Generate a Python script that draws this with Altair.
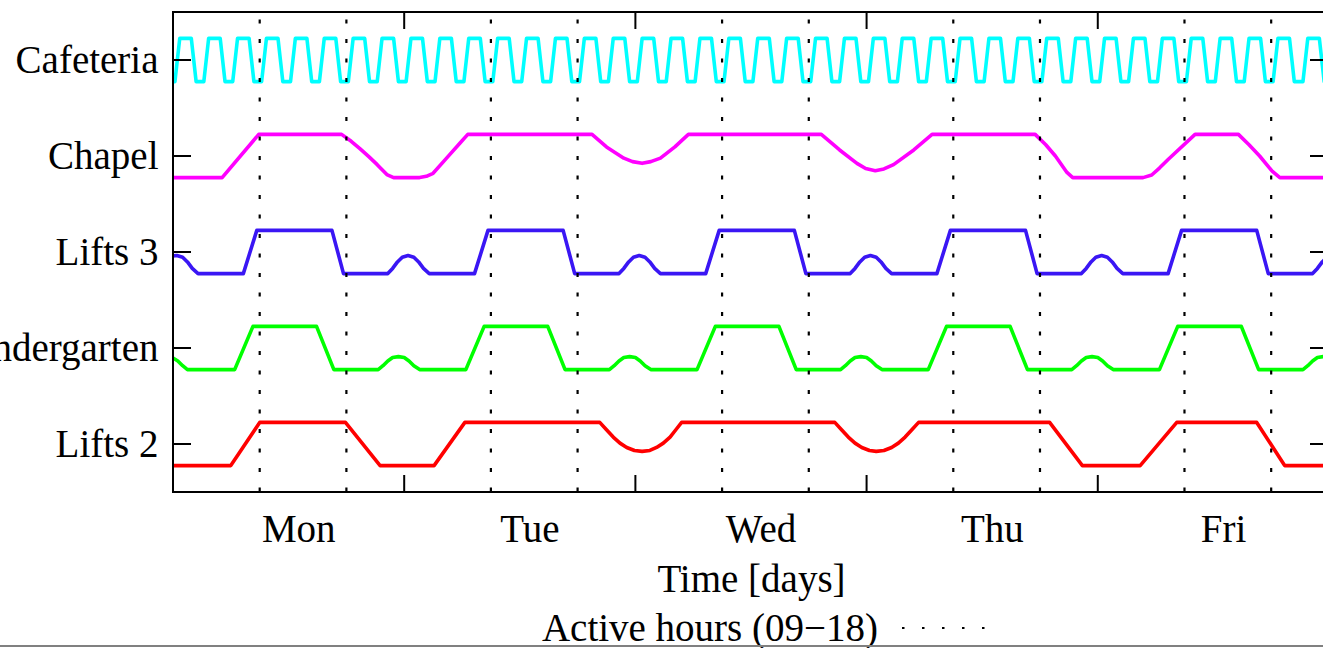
import json
import altair as alt
import pandas as pd

FONT = "Liberation Serif"
FS = 39

# ---------------- labels ----------------
row_names = ["Lifts 2", "Kindergarten", "Lifts 3", "Chapel", "Cafeteria"]   # bottom -> top
row_colors = ["#ff0000", "#00ff00", "#3a16f4", "#ff00ff", "#00ffff"]
day_names = ["Mon", "Tue", "Wed", "Thu", "Fri"]
day_label_hours = [13, 37, 61, 85, 109]
day_edges = [24, 48, 72, 96]
active_lines = [9, 18, 33, 42, 57, 66, 81, 90, 105, 114]
legend_label = "Active hours (09\u221218)"
x_title = "Time [days]"

# ---------------- series (time in hours, level 0 = low, 1 = high) ----------------
l2_t = [0, 6.0, 9.0, 17.9, 21.5, 27.1, 30.3,
        44.3, 45.0, 45.7, 46.4, 47.1, 47.9, 48.7, 49.5, 50.2, 50.9, 51.6, 52.2, 52.8,
        68.7, 69.4, 70.1, 70.8, 71.5, 72.3, 73.0, 73.8, 74.6, 75.3, 76.0, 76.7, 77.4,
        91.0, 94.4, 100.4, 104.2, 112.5, 115.4, 120]
l2_v = [0, 0, 1, 1, 0, 0, 1,
        1, 0.83, 0.66, 0.52, 0.42, 0.35, 0.33, 0.35, 0.42, 0.52, 0.66, 0.83, 1,
        1, 0.83, 0.66, 0.52, 0.42, 0.35, 0.33, 0.35, 0.42, 0.52, 0.66, 0.83, 1,
        1, 0, 0, 1, 1, 0, 0]

kg_t = [0.0, 0.5, 1.0, 1.5, 6.4, 8.3, 14.9, 16.7,
        21.3, 21.8, 22.3, 22.8, 23.4, 24.0, 24.5, 25.0, 25.6, 30.4, 32.3, 38.9, 40.7,
        45.3, 45.8, 46.3, 46.8, 47.4, 48.0, 48.5, 49.0, 49.6, 54.4, 56.3, 62.9, 64.7,
        69.3, 69.8, 70.3, 70.8, 71.4, 72.0, 72.5, 73.0, 73.6, 78.4, 80.3, 86.9, 88.7,
        93.3, 93.8, 94.3, 94.8, 95.4, 96.0, 96.5, 97.0, 97.6, 102.4, 104.3, 110.9, 112.7,
        117.3, 117.8, 118.3, 118.8, 119.4, 120.0]
kg_v = [0.27, 0.2, 0.09, 0, 0, 1, 1, 0,
        0, 0.09, 0.2, 0.28, 0.30, 0.28, 0.2, 0.09, 0, 0, 1, 1, 0,
        0, 0.09, 0.2, 0.28, 0.30, 0.28, 0.2, 0.09, 0, 0, 1, 1, 0,
        0, 0.09, 0.2, 0.28, 0.30, 0.28, 0.2, 0.09, 0, 0, 1, 1, 0,
        0, 0.09, 0.2, 0.28, 0.30, 0.28, 0.2, 0.09, 0, 0, 1, 1, 0,
        0, 0.09, 0.2, 0.28, 0.30, 0.28]

l3_t = [0.0, 0.4, 1.0, 1.5, 2.0, 2.6, 7.3, 8.7, 16.5, 17.7,
        22.3, 22.8, 23.3, 23.8, 24.4, 25.0, 25.5, 26.0, 26.6, 31.3, 32.7, 40.5, 41.7,
        46.3, 46.8, 47.3, 47.8, 48.4, 49.0, 49.5, 50.0, 50.6, 55.3, 56.7, 64.5, 65.7,
        70.3, 70.8, 71.3, 71.8, 72.4, 73.0, 73.5, 74.0, 74.6, 79.3, 80.7, 88.5, 89.7,
        94.3, 94.8, 95.3, 95.8, 96.4, 97.0, 97.5, 98.0, 98.6, 103.3, 104.7, 112.5, 113.7,
        118.3, 118.8, 119.3, 119.8, 120.0]
l3_v = [0.41, 0.42, 0.38, 0.27, 0.12, 0, 0, 1, 1, 0,
        0, 0.12, 0.27, 0.38, 0.42, 0.38, 0.27, 0.12, 0, 0, 1, 1, 0,
        0, 0.12, 0.27, 0.38, 0.42, 0.38, 0.27, 0.12, 0, 0, 1, 1, 0,
        0, 0.12, 0.27, 0.38, 0.42, 0.38, 0.27, 0.12, 0, 0, 1, 1, 0,
        0, 0.12, 0.27, 0.38, 0.42, 0.38, 0.27, 0.12, 0, 0, 1, 1, 0,
        0, 0.12, 0.27, 0.38, 0.40]

ch_t = [0, 5.1, 8.9, 17.5, 18.5, 19.4, 20.3, 21.2, 22.2, 22.9, 25.6, 26.3, 27.0, 28.4, 29.8, 30.6,
        43.5, 45.0, 46.8, 47.7, 48.7, 49.6, 50.6, 52.1, 53.5,
        67.3, 69.2, 71.0, 71.9, 72.9, 73.8, 74.8, 76.9, 78.8,
        89.5, 90.6, 91.6, 92.8, 93.4, 100.7, 101.6, 102.4, 103.3, 106.1, 110.6, 111.7, 112.8, 114.1, 114.9, 120]
ch_v = [0, 0, 1, 1, 0.84, 0.67, 0.49, 0.30, 0.07, 0, 0, 0.03, 0.10, 0.45, 0.80, 1,
        1, 0.71, 0.45, 0.37, 0.33, 0.37, 0.45, 0.71, 1,
        1, 0.64, 0.33, 0.21, 0.16, 0.20, 0.30, 0.64, 1,
        1, 0.76, 0.5, 0.12, 0, 0, 0.06, 0.22, 0.42, 1, 1, 0.76, 0.5, 0.15, 0, 0]

# cafeteria: start of each rising edge (hours) and the shape of one cycle
cafe_rise = [0.2, 3.2, 6.2, 9.2, 12.2, 15.2, 18.2, 21.2, 24.2, 27.2,
             30.2, 33.2, 36.2, 39.2, 42.2, 45.2, 48.2, 51.2, 54.2, 57.2,
             60.2, 63.2, 66.2, 69.2, 72.2, 75.2, 78.2, 81.2, 84.2, 87.2,
             90.2, 93.2, 96.2, 99.2, 102.2, 105.2, 108.2, 111.2, 114.2, 117.3]
cafe_cycle_dt = [0.0, 0.5, 1.7, 2.2]
cafe_cycle_v = [0, 1, 1, 0]

cafe_t, cafe_v = [0.0], [0]
for r in cafe_rise:
    for dt, lv in zip(cafe_cycle_dt, cafe_cycle_v):
        cafe_t.append(r + dt)
        cafe_v.append(lv)
cafe_t.append(120.0)
cafe_v.append(0)

series = [(l2_t, l2_v), (kg_t, kg_v), (l3_t, l3_v), (ch_t, ch_v), (cafe_t, cafe_v)]

rows = []
for i, (ts, vs) in enumerate(series):
    for k, (t, v) in enumerate(zip(ts, vs)):
        rows.append({"series": row_names[i], "t": t, "y": i + (v - 0.5) * 0.45, "k": k})
df = pd.DataFrame(rows)

XMAX = 119.38
W, H = 1150, 480

xscale = alt.Scale(domain=[0, XMAX], nice=False, zero=False)
yscale = alt.Scale(domain=[-0.5, 4.5], nice=False, zero=False)

x_label_expr = json.dumps(day_names) + "[floor(datum.value / 24)]"
y_label_expr = json.dumps(row_names) + "[datum.value]"

x_axis = alt.Axis(values=day_label_hours, labelExpr=x_label_expr, ticks=False, tickSize=0,
                  grid=False, domain=False, orient="bottom",
                  labelFont=FONT, labelFontSize=FS, labelColor="black",
                  labelBaseline="alphabetic", labelPadding=49, labelFlush=False,
                  labelOverlap=False, labelLimit=0, title=x_title, titleFont=FONT, titleFontSize=FS,
                  titleFontWeight="normal", titleColor="black", titleBaseline="alphabetic",
                  titleY=99, titleX=578, titleAlign="center", titleLimit=0)
y_axis = alt.Axis(values=[0, 1, 2, 3, 4], labelExpr=y_label_expr, ticks=False, tickSize=0,
                  grid=False, domain=False, orient="left",
                  labelFont=FONT, labelFontSize=FS, labelColor="black",
                  labelAlign="right", labelBaseline="middle", labelPadding=15,
                  labelFlush=False, labelOverlap=False, labelLimit=0, title="")


def X(field="t:Q"):
    return alt.X(field, scale=xscale, axis=x_axis)


def Y(field="y:Q"):
    return alt.Y(field, scale=yscale, axis=y_axis)


one_row = pd.DataFrame({"label": [legend_label]})

# white strip that sits under the data, over anything drawn at the far right edge
edge_mask = alt.Chart(one_row).mark_rule(color="white", strokeWidth=5).encode(
    x=alt.value(W - 2.5), y=alt.value(2), y2=alt.value(H - 2))

lines = alt.Chart(df).mark_line(strokeWidth=3.6, clip=True, strokeJoin="round", strokeCap="round").encode(
    x=X(),
    y=Y(),
    color=alt.Color("series:N", scale=alt.Scale(domain=row_names, range=row_colors), legend=None),
    order=alt.Order("k:Q"),
)

dotted = alt.Chart(pd.DataFrame({"t": active_lines})).mark_rule(
    color="black", strokeWidth=2.2, strokeDash=[4, 15.5], strokeDashOffset=12).encode(
    x=X(), y=alt.value(0), y2=alt.value(H))

ytick_df = pd.DataFrame({"y": [0, 1, 2, 3, 4]})
left_ticks = alt.Chart(ytick_df).mark_rule(color="black", strokeWidth=2).encode(
    y=Y(), x=alt.value(0), x2=alt.value(18))
right_ticks = alt.Chart(ytick_df).mark_rule(color="black", strokeWidth=2).encode(
    y=Y(), x=alt.value(W - 13), x2=alt.value(W))

xtick_df = pd.DataFrame({"t": day_edges})
top_ticks = alt.Chart(xtick_df).mark_rule(color="black", strokeWidth=2).encode(
    x=X(), y=alt.value(0), y2=alt.value(17))
bottom_ticks = alt.Chart(xtick_df).mark_rule(color="black", strokeWidth=2).encode(
    x=X(), y=alt.value(H - 17), y2=alt.value(H))

top_border = alt.Chart(one_row).mark_rule(color="black", strokeWidth=2).encode(
    x=alt.value(0), x2=alt.value(W), y=alt.value(0))
bottom_border = alt.Chart(one_row).mark_rule(color="black", strokeWidth=2).encode(
    x=alt.value(0), x2=alt.value(W), y=alt.value(H))
left_border = alt.Chart(one_row).mark_rule(color="black", strokeWidth=2).encode(
    x=alt.value(0), y=alt.value(-1), y2=alt.value(H + 1))

legend_text = alt.Chart(one_row).mark_text(
    font=FONT, fontSize=FS, align="right", baseline="alphabetic", color="black").encode(
    x=alt.value(705), y=alt.value(629), text="label:N")
legend_sample = alt.Chart(one_row).mark_rule(
    color="black", strokeWidth=2.2, strokeDash=[2.5, 17.5]).encode(
    x=alt.value(729), x2=alt.value(812), y=alt.value(616))

bottom_line = alt.Chart(one_row).mark_rule(
    color="#808080", strokeWidth=2).encode(
    x=alt.value(-173), x2=alt.value(W), y=alt.value(634))

chart = alt.layer(
    edge_mask, lines, dotted, left_ticks, right_ticks, top_ticks, bottom_ticks,
    top_border, bottom_border, left_border,
    legend_text, legend_sample, bottom_line
).properties(
    width=W, height=H,
    autosize=alt.AutoSizeParams(type="none"),
    padding={"left": 173, "top": 12, "right": 0, "bottom": 156},
).configure_view(strokeWidth=0, stroke="transparent")

chart.save("out.html", embed_options={"renderer": "svg", "actions": False})
